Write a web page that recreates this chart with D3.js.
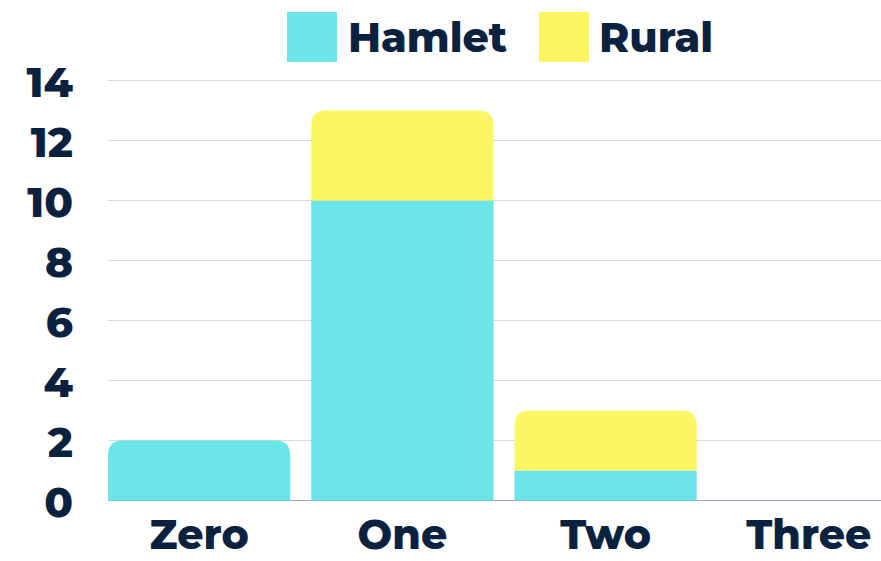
<!DOCTYPE html>
<html><head><meta charset="utf-8">
<script src="https://cdn.jsdelivr.net/npm/d3@7"></script>
<style>
html,body{margin:0;padding:0;background:#fff;overflow:hidden}
svg{display:block}
text{font-family:"Montserrat","Open Sans","DejaVu Sans",sans-serif;font-weight:800;fill:#0b223f}
</style></head>
<body>
<svg id="chart" width="881" height="561"></svg>
<script>
const categories = ["Zero","One","Two","Three"];
const hamlet = [2,10,1,0];
const rural = [0,3,2,0];
const yTicks = [0,2,4,6,8,10,12,14];
const seriesNames = ["Hamlet","Rural"];
const colors = ["#6be5e8","#fdf664"];

const svg = d3.select("#chart");
const W = 881, H = 561;
const x = d3.scaleBand().domain(categories).range([108, 900]).paddingInner(21/203).paddingOuter(0);
const y = d3.scaleLinear().domain([0,14]).range([500.5, 80.5]);

// gridlines
svg.append("g").selectAll("line").data(yTicks.filter(d=>d>0)).join("line")
  .attr("x1",108).attr("x2",W).attr("y1",d=>y(d)).attr("y2",d=>y(d))
  .attr("stroke","#d8dadf").attr("stroke-width",1.2);
// baseline
svg.append("line").attr("x1",108).attr("x2",W).attr("y1",y(0)).attr("y2",y(0))
  .attr("stroke","#9aa3b3").attr("stroke-width",1.2);

// y labels
svg.append("g").selectAll("text").data(yTicks).join("text")
  .attr("x",73).attr("y",d=>y(d)+16).attr("text-anchor","end")
  .attr("font-size",42).text(d=>d);

// stacked data
const rows = categories.map((c,i)=>({cat:c, Hamlet:hamlet[i], Rural:rural[i]}));
const stack = d3.stack().keys(seriesNames)(rows);
const r = 15;
function barPath(x0, w, y0, y1, rounded){
  const h = y0 - y1;
  if (h <= 0) return "";
  const rr = rounded ? Math.min(r, h, w/2) : 0;
  return `M${x0},${y0}V${y1+rr}` + (rr? `Q${x0},${y1} ${x0+rr},${y1}`:"") +
    `H${x0+w-rr}` + (rr? `Q${x0+w},${y1} ${x0+w},${y1+rr}`:"") + `V${y0}Z`;
}
stack.forEach((s,si)=>{
  svg.append("g").selectAll("path").data(s).join("path")
    .attr("fill",colors[si])
    .attr("d",(d,i)=>{
      const isTop = stack.slice(si+1).every(t=>t[i][1]-t[i][0]===0);
      return barPath(x(d.data.cat), x.bandwidth(), y(d[0]), y(d[1]), isTop);
    });
});

// x labels
svg.append("g").selectAll("text").data(categories).join("text")
  .attr("x",d=>x(d)+x.bandwidth()/2).attr("y",549).attr("text-anchor","middle")
  .attr("font-size",41).text(d=>d);

// legend
const leg = [{n:"Hamlet",sx:287,tx:348},{n:"Rural",sx:539,tx:599}];
leg.forEach((l,i)=>{
  svg.append("rect").attr("x",l.sx).attr("y",12).attr("width",50).attr("height",50).attr("fill",colors[i]);
  svg.append("text").attr("x",l.tx).attr("y",52).attr("font-size",41).text(seriesNames[i]);
});
</script>
</body></html>
